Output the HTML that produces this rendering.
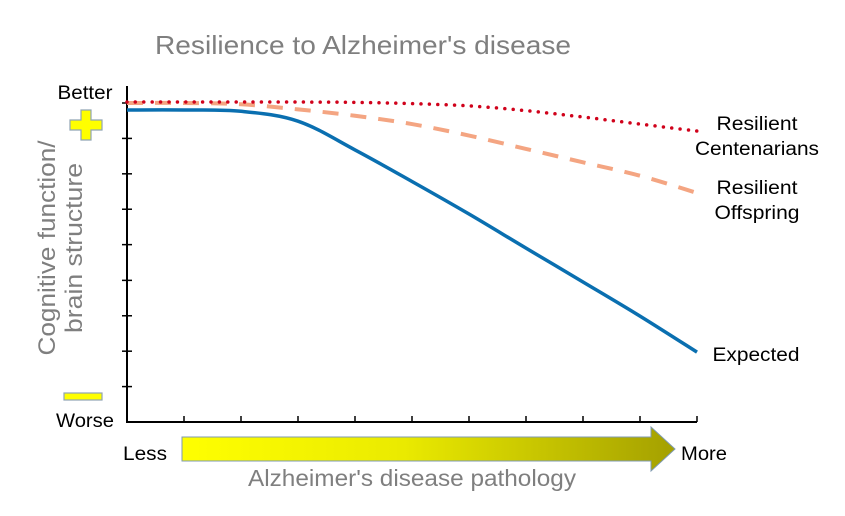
<!DOCTYPE html>
<html><head><meta charset="utf-8"><style>
body{margin:0;background:#fff;}
svg{display:block;font-family:"Liberation Sans",Arial,sans-serif;}
</style></head><body>
<svg width="845" height="516" viewBox="0 0 845 516">
<defs>
<linearGradient id="ag" x1="0" x2="1" y1="0" y2="0">
<stop offset="0" stop-color="#ffff00"/><stop offset="0.45" stop-color="#eaea00"/><stop offset="1" stop-color="#a4a000"/>
</linearGradient>
</defs>
<text x="363" y="54" font-size="26" fill="#7f7f7f" text-anchor="middle" textLength="416" lengthAdjust="spacingAndGlyphs">Resilience to Alzheimer's disease</text>
<g id="axes"></g>
<g id="series"></g>
<text x="85" y="99" font-size="19" text-anchor="middle" textLength="55" lengthAdjust="spacingAndGlyphs">Better</text>
<path d="M81 110h10v10h11v10h-11v10h-10v-10h-11v-10h11z" fill="#ffff00" stroke="#8fa4b4" stroke-width="1.2"/>
<rect x="64" y="393" width="38" height="7" fill="#ffff00" stroke="#8fa4b4" stroke-width="1.2"/>
<text x="85" y="427" font-size="19" text-anchor="middle" textLength="58" lengthAdjust="spacingAndGlyphs">Worse</text>
<g transform="translate(62,248) rotate(-90)">
<text x="0" y="-7" font-size="24" fill="#7f7f7f" text-anchor="middle" textLength="215" lengthAdjust="spacingAndGlyphs">Cognitive function/</text>
<text x="0" y="20" font-size="24" fill="#7f7f7f" text-anchor="middle" textLength="170" lengthAdjust="spacingAndGlyphs">brain structure</text>
</g>
<text x="145" y="460" font-size="19" text-anchor="middle" textLength="44" lengthAdjust="spacingAndGlyphs">Less</text>
<path d="M182 437H651V427L675 449L651 471V461H182Z" fill="url(#ag)" stroke="#7f9ab0" stroke-width="1"/>
<text x="704" y="460" font-size="19" text-anchor="middle" textLength="46" lengthAdjust="spacingAndGlyphs">More</text>
<text x="412" y="486" font-size="23" fill="#7f7f7f" text-anchor="middle" textLength="328" lengthAdjust="spacingAndGlyphs">Alzheimer's disease pathology</text>
<g font-size="19" text-anchor="middle">
<text x="757" y="130" textLength="81" lengthAdjust="spacingAndGlyphs">Resilient</text>
<text x="757" y="155" textLength="124" lengthAdjust="spacingAndGlyphs">Centenarians</text>
<text x="757" y="194" textLength="81" lengthAdjust="spacingAndGlyphs">Resilient</text>
<text x="757" y="219" textLength="85" lengthAdjust="spacingAndGlyphs">Offspring</text>
<text x="756" y="361" textLength="87" lengthAdjust="spacingAndGlyphs">Expected</text>
</g>
</svg>
<script>
const categories = [0,1,2,3,4,5,6,7,8,9,10];
const centenarians = [100.3,100.3,100.3,100.3,100.2,99.8,99.1,97.6,95.6,93.4,91.2];
const offspring = [100,100,99.6,98.0,96.0,93.4,89.8,85.6,81.4,77.2,71.8];
const expected = [97.8,97.8,97.4,94.3,85.3,75.4,65.2,54.5,43.9,33.2,21.9];
const yTicks = [0,11.1,22.2,33.3,44.4,55.6,66.7,77.8,88.9,100];
const NS='http://www.w3.org/2000/svg';
const X0=127,X1=697,Y0=422,Y1=103;
function xs(v){return X0+(v-0)/(10-0)*(X1-X0);}
function ys(v){return Y0-(v/100)*(Y0-Y1);}
function mk(t,a,p){const e=document.createElementNS(NS,t);for(const k in a)e.setAttribute(k,a[k]);p.appendChild(e);return e;}
const ax=document.getElementById('axes');
const yl=mk('line',{x1:X0,y1:86,x2:X0,y2:Y0,stroke:'#000','stroke-width':2},ax);


const xl=mk('line',{x1:X0-1,y1:Y0,x2:X1,y2:Y0,stroke:'#000','stroke-width':2},ax);


yTicks.forEach(v=>{if(v===0)return;const t=mk('line',{x1:X0-5,x2:X0+5,y1:ys(v),y2:ys(v),stroke:'#000','stroke-width':1.5},ax);

});
categories.forEach(c=>{if(c===0)return;const t=mk('line',{x1:xs(c),x2:xs(c),y1:Y0,y2:Y0-6,stroke:'#000','stroke-width':1.5},ax);

});
function smooth(vals){const p=categories.map((c,i)=>[xs(c),ys(vals[i])]);let d='M'+p[0][0]+' '+p[0][1];
for(let i=0;i<p.length-1;i++){const a=p[i-1]||p[i],b=p[i],c=p[i+1],e=p[i+2]||c;
d+=` C${b[0]+(c[0]-a[0])/6} ${b[1]+(c[1]-a[1])/6} ${c[0]-(e[0]-b[0])/6} ${c[1]-(e[1]-b[1])/6} ${c[0]} ${c[1]}`;}return d;}
const sg=document.getElementById('series');
const l1=mk('path',{d:smooth(offspring),fill:'none',stroke:'#f4a582','stroke-width':4,'stroke-dasharray':'16 12'},sg);


const l2=mk('path',{d:smooth(centenarians),fill:'none',stroke:'#d0021b','stroke-width':3.5,'stroke-dasharray':'0 8.4','stroke-linecap':'round'},sg);


const l3=mk('path',{d:smooth(expected),fill:'none',stroke:'#0a6fb0','stroke-width':3.5},sg);


</script>
</body></html>
